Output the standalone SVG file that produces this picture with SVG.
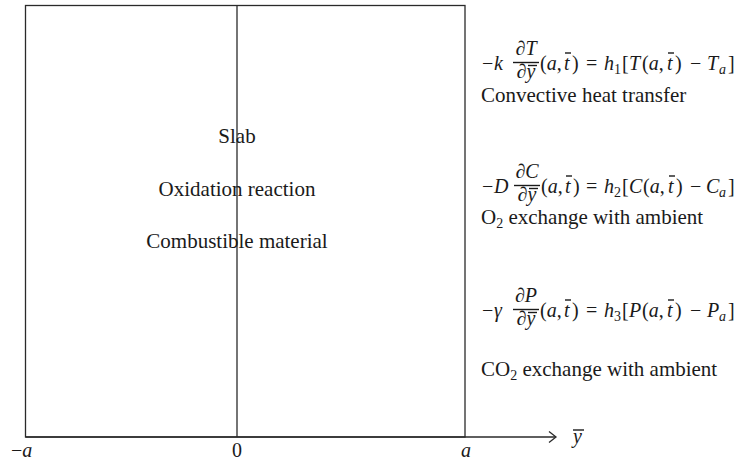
<svg xmlns="http://www.w3.org/2000/svg" width="750" height="464" viewBox="0 0 750 464">
<style>
  text { font-family: "Liberation Serif", "Times New Roman", serif; font-size: 20px; fill: #1a1a1a; }
  .lbl { font-size: 21px; }
  .i { font-style: italic; }
  .sub { font-size: 14px; }
  .m { text-anchor: middle; }
  .ln { stroke: #2a2a2a; stroke-width: 1.3; fill: none; }
  .bar { stroke: #1a1a1a; stroke-width: 1.4; fill: none; }
</style>
<rect width="750" height="464" fill="#ffffff"/>

<g id="slab">
  <rect class="ln" x="25.5" y="5.5" width="439.5" height="431.5"/>
  <line class="ln" x1="237" y1="5.5" x2="237" y2="437"/>
  <text class="m lbl" x="237" y="143">Slab</text>
  <text class="m lbl" x="237" y="196">Oxidation reaction</text>
  <text class="m lbl" x="237" y="248">Combustible material</text>
</g>

<g id="connectors">
  <line class="ln" x1="25.5" y1="437" x2="555" y2="437"/>
  <polyline class="ln" points="549,431.5 556,437 549,442.5"/>
</g>

<g id="axis-labels">
  <text x="11" y="457">−<tspan class="i">a</tspan></text>
  <text class="m" x="237" y="457">0</text>
  <text class="m i" x="466" y="457">a</text>
  <text class="i" x="573" y="443">y</text>
  <line class="bar" x1="573" y1="430" x2="584" y2="430"/>
</g>

<g id="bc-heat" transform="translate(0,70)">
  <text x="482" y="0">−</text>
  <text class="i" x="494" y="0">k</text>
  <text class="m" x="526" y="-15">∂<tspan class="i">T</tspan></text>
  <line class="bar" x1="513" y1="-7.5" x2="539" y2="-7.5"/>
  <text class="m" x="526" y="8">∂<tspan class="i">y</tspan></text>
  <line class="bar" x1="528" y1="-4.5" x2="537" y2="-4.5"/>
  <text x="540" y="0">(<tspan class="i">a</tspan>,</text>
  <text class="i" x="564" y="0">t</text>
  <line class="bar" x1="565" y1="-17" x2="571" y2="-17"/>
  <text x="572" y="0">)</text>
  <text x="586" y="0">=</text>
  <text class="i" x="604" y="0">h</text>
  <text class="sub" x="614" y="4">1</text>
  <text x="622" y="0">[</text>
  <text class="i" x="629" y="0">T</text>
  <text x="642" y="0">(<tspan class="i">a</tspan>,</text>
  <text class="i" x="667" y="0">t</text>
  <line class="bar" x1="668" y1="-17" x2="674" y2="-17"/>
  <text x="675" y="0">)</text>
  <text x="690" y="0">−</text>
  <text class="i" x="707" y="0">T</text>
  <text class="sub i" x="719" y="4">a</text>
  <text x="728" y="0">]</text>
</g>
<g id="heat-label">
  <text class="lbl" x="481" y="102">Convective heat transfer</text>
</g>

<g id="bc-o2" transform="translate(0,193)">
  <text x="482" y="0">−</text>
  <text class="i" x="494" y="0">D</text>
  <text class="m" x="527" y="-15">∂<tspan class="i">C</tspan></text>
  <line class="bar" x1="514" y1="-7.5" x2="540" y2="-7.5"/>
  <text class="m" x="527" y="8">∂<tspan class="i">y</tspan></text>
  <line class="bar" x1="529" y1="-4.5" x2="538" y2="-4.5"/>
  <text x="541" y="0">(<tspan class="i">a</tspan>,</text>
  <text class="i" x="565" y="0">t</text>
  <line class="bar" x1="566" y1="-17" x2="572" y2="-17"/>
  <text x="573" y="0">)</text>
  <text x="586" y="0">=</text>
  <text class="i" x="604" y="0">h</text>
  <text class="sub" x="614" y="4">2</text>
  <text x="622" y="0">[</text>
  <text class="i" x="629" y="0">C</text>
  <text x="643" y="0">(<tspan class="i">a</tspan>,</text>
  <text class="i" x="668" y="0">t</text>
  <line class="bar" x1="669" y1="-17" x2="675" y2="-17"/>
  <text x="676" y="0">)</text>
  <text x="690" y="0">−</text>
  <text class="i" x="706" y="0">C</text>
  <text class="sub i" x="719" y="4">a</text>
  <text x="728" y="0">]</text>
</g>
<g id="o2-label">
  <text class="lbl" x="481" y="224">O<tspan class="sub" dy="4">2</tspan><tspan dy="-4"> exchange with ambient</tspan></text>
</g>

<g id="bc-co2" transform="translate(0,317)">
  <text x="482" y="0">−</text>
  <text class="i" x="494" y="0">γ</text>
  <text class="m" x="526" y="-15">∂<tspan class="i">P</tspan></text>
  <line class="bar" x1="513" y1="-7.5" x2="539" y2="-7.5"/>
  <text class="m" x="526" y="8">∂<tspan class="i">y</tspan></text>
  <line class="bar" x1="528" y1="-4.5" x2="537" y2="-4.5"/>
  <text x="540" y="0">(<tspan class="i">a</tspan>,</text>
  <text class="i" x="564" y="0">t</text>
  <line class="bar" x1="565" y1="-17" x2="571" y2="-17"/>
  <text x="572" y="0">)</text>
  <text x="586" y="0">=</text>
  <text class="i" x="604" y="0">h</text>
  <text class="sub" x="614" y="4">3</text>
  <text x="622" y="0">[</text>
  <text class="i" x="629" y="0">P</text>
  <text x="642" y="0">(<tspan class="i">a</tspan>,</text>
  <text class="i" x="667" y="0">t</text>
  <line class="bar" x1="668" y1="-17" x2="674" y2="-17"/>
  <text x="675" y="0">)</text>
  <text x="690" y="0">−</text>
  <text class="i" x="707" y="0">P</text>
  <text class="sub i" x="719" y="4">a</text>
  <text x="728" y="0">]</text>
</g>
<g id="co2-label">
  <text class="lbl" x="481" y="376">CO<tspan class="sub" dy="4">2</tspan><tspan dy="-4"> exchange with ambient</tspan></text>
</g>
</svg>
